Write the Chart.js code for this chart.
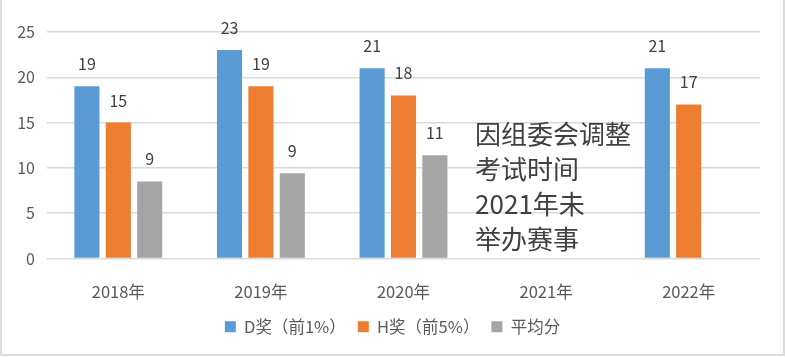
<!DOCTYPE html>
<html><head><meta charset="utf-8">
<script src="https://cdn.jsdelivr.net/npm/chart.js@4"></script>
<style>
html,body{margin:0;padding:0;background:#fff;}
#wrap{position:relative;width:785px;height:357px;}
#frame{position:absolute;left:0;top:0;width:781px;height:354px;border-left:2px solid #dcdcdc;border-right:2px solid #dcdcdc;border-bottom:2px solid #dcdcdc;pointer-events:none;}
</style></head><body>
<div id="wrap"><canvas id="c" width="785" height="357"></canvas><div id="frame"></div></div>
<script>
const categories = ['2018年','2019年','2020年','2021年','2022年'];
const seriesNames = ['D奖（前1%）','H奖（前5%）','平均分'];
const dAward = [19, 23, 21, null, 21];
const hAward = [15, 19, 18, null, 17];
const average = [8.5, 9.4, 11.4, null, null];
const yTicks = [0, 5, 10, 15, 20, 25];
const noteLines = ['因组委会调整', '考试时间', '2021年未', '举办赛事'];
const noteCategory = '2021年';

const FONT = '"Noto Sans CJK SC", "Noto Sans", sans-serif';

const valueLabels = {
  id: 'valueLabels',
  afterDatasetsDraw(chart) {
    const ctx = chart.ctx;
    ctx.save();
    ctx.font = '16px ' + FONT;
    ctx.fillStyle = '#404040';
    ctx.textAlign = 'center';
    ctx.textBaseline = 'alphabetic';
    chart.data.datasets.forEach((ds, i) => {
      const meta = chart.getDatasetMeta(i);
      meta.data.forEach((el, j) => {
        const v = ds.data[j];
        if (v == null) return;
        ctx.fillText(String(Math.round(v)), el.x, el.y - 16);
      });
    });
    ctx.restore();
  }
};

const notePlugin = {
  id: 'note',
  afterDraw(chart) {
    const ctx = chart.ctx;
    const xs = chart.scales.x, ys = chart.scales.y;
    const x0 = xs.getPixelForValue(categories.indexOf(noteCategory)) - 71;
    const y0 = ys.getPixelForValue(13.7);
    ctx.save();
    ctx.font = '26px ' + FONT;
    ctx.fillStyle = '#404040';
    ctx.textAlign = 'left';
    ctx.textBaseline = 'middle';
    noteLines.forEach((t, i) => ctx.fillText(t, x0, y0 + i * 35));
    ctx.restore();
  }
};

// centre the legend on the whole canvas rather than on the padded area
const legendShift = {
  id: 'legendShift',
  afterLayout(chart) {
    const lg = chart.legend;
    if (!lg) return;
    const d = (chart.width - (lg.left + lg.right)) / 2;
    lg.left += d; lg.right += d;
  }
};

new Chart(document.getElementById('c'), {
  type: 'bar',
  data: {
    labels: categories,
    datasets: [
      { label: seriesNames[0], data: dAward, backgroundColor: '#5B9BD5' },
      { label: seriesNames[1], data: hAward, backgroundColor: '#ED7D31' },
      { label: seriesNames[2], data: average, backgroundColor: '#A5A5A5' }
    ]
  },
  options: {
    responsive: false,
    animation: false,
    devicePixelRatio: 1,
    categoryPercentage: 0.66,
    barPercentage: 0.8,
    layout: { padding: { top: 32, right: 25, bottom: 12, left: 0 } },
    plugins: {
      tooltip: { enabled: false },
      legend: {
        position: 'bottom',
        labels: {
          boxWidth: 11, boxHeight: 11, padding: 12,
          color: '#595959',
          font: { family: FONT, size: 16.5 }
        }
      }
    },
    scales: {
      x: {
        grid: { display: false },
        border: { display: false },
        ticks: { color: '#595959', font: { family: FONT, size: 16.5 }, padding: 15 },
        afterFit(s) { s.height = 48; }
      },
      y: {
        min: 0, max: 25,
        afterBuildTicks(s) { s.ticks = yTicks.map(v => ({ value: v })); },
        grid: { color: '#D9D9D9', lineWidth: 1.5, drawTicks: false },
        border: { display: false },
        ticks: { color: '#595959', font: { family: FONT, size: 16 }, padding: 12 },
        afterFit(s) { s.width = 47; }
      }
    }
  },
  plugins: [valueLabels, notePlugin, legendShift]
});
</script>
</body></html>
